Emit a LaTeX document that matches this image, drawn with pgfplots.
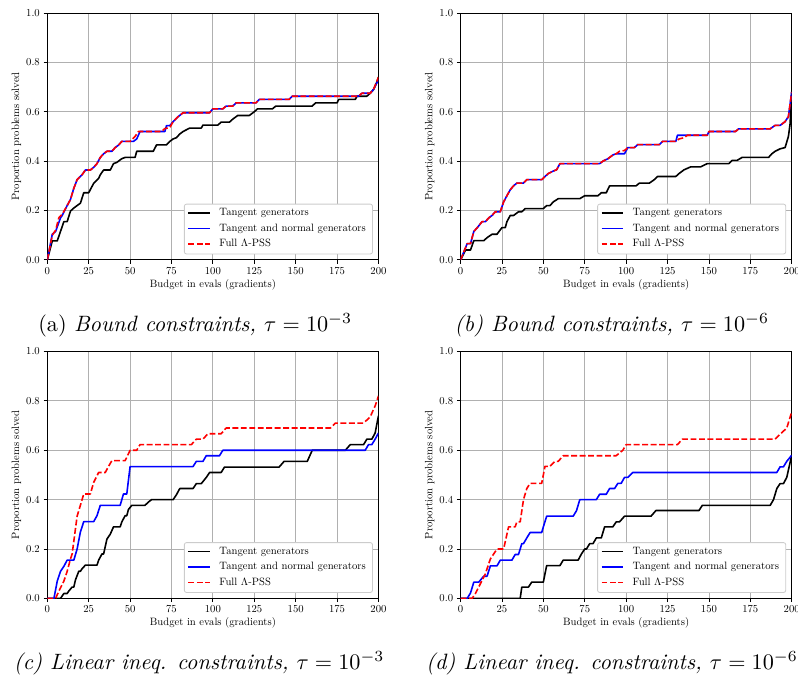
\documentclass[border=0pt]{standalone}
\usepackage{pgfplots}
\pgfplotsset{compat=1.18}
\definecolor{gridgray}{HTML}{B0B0B0}
\definecolor{legframe}{HTML}{CCCCCC}
\newcommand{\mylegend}[1]{%
  \draw[legframe, line width=0.8pt, fill=white, rounded corners=2pt]
    ([shift={(-182.3pt,5.6pt)}]#1.south east) rectangle ([shift={(-5.6pt,52.4pt)}]#1.south east);
  \draw[black, line width=1.5pt] ([shift={(-178.6pt,43.9pt)}]#1.south east) -- ++(20pt,0pt);
  \draw[blue, line width=1.5pt] ([shift={(-178.6pt,29.5pt)}]#1.south east) -- ++(20pt,0pt);
  \draw[red, line width=1.5pt, dash pattern=on 5.55pt off 2.4pt] ([shift={(-178.6pt,15.1pt)}]#1.south east) -- ++(20pt,0pt);
  \node[anchor=west, inner sep=0pt, text height=7pt, text depth=2pt] at ([shift={(-149.5pt,43.9pt)}]#1.south east) {Tangent generators};
  \node[anchor=west, inner sep=0pt, text height=7pt, text depth=2pt] at ([shift={(-149.5pt,29.5pt)}]#1.south east) {Tangent and normal generators};
  \node[anchor=west, inner sep=0pt, text height=7pt, text depth=2pt] at ([shift={(-149.5pt,15.1pt)}]#1.south east) {Full $\Lambda$-PSS};
}
\begin{document}
\pgfplotsset{
  panel/.style={
    scale only axis, width=311pt, height=231.9pt,
    xmin=0, xmax=200, ymin=0, ymax=1,
    xtick={0,25,50,75,100,125,150,175,200},
    ytick={0,0.2,0.4,0.6,0.8,1},
    yticklabel style={/pgf/number format/fixed,/pgf/number format/fixed zerofill,/pgf/number format/precision=1},
    grid=major, major grid style={color=gridgray, line width=0.8pt},
    axis line style={line width=0.8pt},
    tick align=outside, major tick length=3.5pt, tick style={black, line width=0.8pt},
    xtick pos=left, ytick pos=left,
    tick label style={font=\normalsize},
    label style={font=\normalsize},
    xlabel={Budget in evals (gradients)}, ylabel={Proportion problems solved},
    xlabel style={at={(axis description cs:0.5,-0.1008)}, anchor=center},
    ylabel style={at={(axis description cs:-0.0931,0.5)}, anchor=center},
    every axis plot/.append style={line width=1.5pt, line join=round},
  },
  tg/.style={black},
  tn/.style={blue},
  fp/.style={red, dash pattern=on 5.55pt off 2.4pt},
}
\begin{tikzpicture}

% (a)
\begin{axis}[panel, name=A, at={(41.1pt,-12.2pt)}, anchor=north west]
\addplot[tg] coordinates {(0,0)(3,0.077)(6,0.077)(10,0.155)(12,0.155)(14,0.198)(16,0.21)(20,0.23)(22,0.272)(25,0.272)(26,0.285)(28,0.31)(31,0.33)(32,0.345)(34,0.364)(38,0.364)(40,0.39)(42,0.395)(45,0.41)(47,0.415)(53,0.415)(54,0.44)(64,0.44)(66,0.466)(72,0.466)(74,0.48)(76,0.49)(78,0.495)(80,0.51)(82,0.52)(86,0.534)(93,0.534)(94,0.546)(103,0.546)(105,0.558)(110,0.558)(112,0.57)(115,0.585)(122,0.585)(125,0.6)(127,0.612)(136,0.612)(138,0.623)(160,0.623)(162,0.636)(175,0.636)(176,0.65)(186,0.65)(187,0.663)(193,0.663)(195,0.675)(197,0.69)(199,0.72)(200,0.74)};
\addplot[tn] coordinates {(0,0)(3,0.104)(5,0.115)(8,0.171)(9,0.18)(12,0.22)(14,0.245)(16,0.29)(18,0.325)(21,0.345)(23,0.364)(26,0.364)(28,0.375)(30,0.39)(32,0.415)(34,0.43)(36,0.44)(39,0.44)(41,0.455)(43,0.465)(45,0.48)(52,0.48)(54,0.49)(56,0.52)(71,0.52)(72,0.544)(74,0.544)(76,0.56)(79,0.58)(82,0.596)(98,0.596)(100,0.612)(106,0.612)(108,0.623)(112,0.623)(114,0.636)(126,0.636)(128,0.65)(146,0.65)(148,0.663)(188,0.663)(190,0.675)(195,0.675)(197,0.69)(200,0.73)};
\addplot[fp] coordinates {(0,0)(3,0.1)(5,0.12)(7,0.171)(9,0.185)(12,0.22)(14,0.245)(16,0.29)(18,0.325)(21,0.345)(23,0.364)(26,0.364)(28,0.375)(30,0.39)(32,0.415)(34,0.43)(36,0.44)(39,0.44)(41,0.455)(43,0.465)(45,0.48)(50,0.48)(53,0.5)(55,0.52)(69,0.52)(71,0.532)(74,0.536)(76,0.56)(79,0.58)(82,0.596)(98,0.596)(100,0.612)(106,0.612)(108,0.623)(112,0.623)(114,0.636)(126,0.636)(128,0.65)(146,0.65)(148,0.663)(188,0.663)(190,0.675)(195,0.675)(197,0.69)(200,0.74)};
\end{axis}
\mylegend{A}

% (b)
\begin{axis}[panel, name=B, at={(429.2pt,-12.2pt)}, anchor=north west]
\addplot[tg] coordinates {(0,0)(3,0.04)(6,0.04)(8,0.078)(14,0.078)(16,0.09)(19,0.104)(22,0.104)(25,0.131)(27,0.131)(28,0.155)(30,0.18)(32,0.18)(35,0.195)(37,0.195)(39,0.208)(50,0.208)(52,0.22)(54,0.22)(56,0.235)(59,0.248)(72,0.248)(75,0.26)(83,0.26)(85,0.272)(88,0.272)(90,0.3)(106,0.3)(108,0.311)(114,0.311)(117,0.325)(119,0.338)(130,0.338)(132,0.35)(135,0.365)(139,0.377)(145,0.377)(149,0.39)(162,0.39)(164,0.403)(167,0.403)(170,0.415)(186,0.415)(188,0.43)(190,0.44)(193,0.45)(196,0.455)(198,0.5)(199,0.55)(200,0.68)};
\addplot[tn] coordinates {(0,0)(4,0.066)(6,0.066)(8,0.115)(10,0.13)(13,0.155)(15,0.155)(17,0.17)(19,0.18)(21,0.195)(24,0.195)(26,0.235)(28,0.26)(30,0.284)(32,0.3)(34,0.311)(38,0.311)(40,0.325)(49,0.325)(51,0.338)(53,0.35)(56,0.36)(58,0.365)(60,0.39)(84,0.39)(86,0.4)(89,0.41)(92,0.425)(94,0.43)(99,0.43)(101,0.455)(105,0.455)(107,0.467)(120,0.467)(122,0.48)(130,0.48)(131,0.505)(149,0.505)(150,0.52)(166,0.52)(168,0.531)(187,0.531)(190,0.545)(193,0.545)(196,0.56)(198,0.58)(200,0.68)};
\addplot[fp] coordinates {(0,0)(4,0.066)(6,0.066)(8,0.115)(10,0.13)(13,0.155)(15,0.155)(17,0.17)(19,0.18)(21,0.195)(24,0.195)(26,0.235)(28,0.26)(30,0.284)(32,0.3)(34,0.311)(38,0.311)(40,0.325)(49,0.325)(51,0.338)(53,0.35)(56,0.36)(58,0.365)(60,0.39)(84,0.39)(86,0.4)(89,0.41)(92,0.425)(94,0.43)(96,0.44)(99,0.443)(101,0.455)(105,0.455)(107,0.467)(120,0.467)(122,0.48)(130,0.48)(132,0.49)(135,0.495)(137,0.505)(149,0.505)(150,0.52)(166,0.52)(168,0.531)(187,0.531)(190,0.545)(193,0.545)(196,0.56)(198,0.58)(200,0.68)};
\end{axis}
\mylegend{B}

% (c)
\begin{axis}[panel, name=C, at={(41.1pt,-330.1pt)}, anchor=north west]
\addplot[tg] coordinates {(0,0)(8,0)(10,0.02)(12,0.02)(13,0.03)(15,0.046)(16,0.046)(17,0.075)(19,0.11)(20,0.11)(21,0.12)(23,0.135)(30,0.135)(31,0.155)(33,0.18)(34,0.18)(36,0.24)(38,0.26)(40,0.29)(44,0.29)(45,0.31)(47,0.335)(48,0.335)(49,0.36)(51,0.377)(59,0.377)(61,0.39)(63,0.4)(76,0.4)(78,0.42)(80,0.445)(88,0.445)(90,0.465)(93,0.465)(96,0.49)(98,0.51)(105,0.51)(107,0.532)(140,0.532)(143,0.555)(157,0.555)(160,0.6)(180,0.6)(183,0.623)(191,0.623)(193,0.645)(196,0.645)(198,0.67)(200,0.74)};
\addplot[tn] coordinates {(0,0)(4,0)(6,0.07)(8,0.11)(10,0.13)(12,0.155)(16,0.155)(18,0.2)(20,0.27)(21,0.29)(22,0.311)(28,0.311)(30,0.335)(32,0.377)(44,0.377)(46,0.423)(48,0.423)(50,0.534)(88,0.534)(90,0.555)(94,0.555)(96,0.578)(104,0.578)(106,0.6)(192,0.6)(194,0.623)(196,0.623)(198,0.645)(200,0.67)};
\addplot[fp] coordinates {(0,0)(5,0)(7,0.03)(10,0.07)(12,0.11)(14,0.16)(15,0.18)(18,0.333)(21,0.4)(22,0.423)(26,0.423)(28,0.47)(31,0.51)(35,0.51)(37,0.535)(39,0.558)(47,0.558)(50,0.6)(54,0.6)(56,0.623)(87,0.623)(90,0.645)(94,0.645)(97,0.667)(105,0.667)(108,0.69)(171,0.69)(174,0.71)(191,0.71)(195,0.735)(198,0.78)(200,0.82)};
\end{axis}
\mylegend{C}

% (d)
\begin{axis}[panel, name=D, at={(429.2pt,-330.1pt)}, anchor=north west]
\addplot[tg] coordinates {(0,0)(36,0)(37,0.046)(41,0.046)(43,0.066)(50,0.066)(51,0.1)(52,0.133)(60,0.133)(62,0.155)(71,0.155)(73,0.18)(75,0.2)(76,0.2)(78,0.222)(80,0.222)(82,0.245)(85,0.245)(87,0.29)(92,0.29)(94,0.31)(96,0.31)(99,0.333)(115,0.333)(118,0.356)(144,0.356)(146,0.377)(187,0.377)(189,0.4)(191,0.445)(193,0.465)(195,0.465)(197,0.49)(200,0.58)};
\addplot[tn] coordinates {(0,0)(4,0)(6,0.022)(8,0.066)(11,0.066)(14,0.09)(16,0.09)(18,0.132)(22,0.132)(24,0.155)(31,0.155)(33,0.178)(35,0.178)(37,0.222)(38,0.222)(40,0.245)(42,0.267)(49,0.267)(50,0.29)(52,0.333)(68,0.333)(70,0.355)(72,0.4)(82,0.4)(84,0.422)(88,0.422)(90,0.445)(93,0.445)(95,0.466)(97,0.466)(99,0.49)(101,0.49)(104,0.51)(191,0.51)(193,0.533)(195,0.533)(197,0.555)(200,0.58)};
\addplot[fp] coordinates {(0,0)(7,0)(9,0.02)(12,0.06)(15,0.1)(18,0.16)(20,0.18)(22,0.2)(26,0.2)(29,0.29)(33,0.29)(34,0.31)(36,0.31)(38,0.4)(40,0.445)(42,0.466)(49,0.466)(51,0.535)(54,0.535)(57,0.555)(59,0.555)(62,0.578)(94,0.578)(98,0.6)(100,0.623)(131,0.623)(134,0.645)(190,0.645)(193,0.665)(197,0.69)(200,0.755)};
\end{axis}
\mylegend{D}

\node[inner sep=0pt, scale=2.085] at (180pt,-305.3pt) {(a) \textit{Bound constraints, $\tau = 10^{-3}$}};
\node[inner sep=0pt, scale=2.085] at (571.3pt,-305.3pt) {\textit{(b) Bound constraints, $\tau = 10^{-6}$}};
\node[inner sep=0pt, scale=2.085] at (183.7pt,-622.9pt) {\textit{(c) Linear ineq. constraints, $\tau = 10^{-3}$}};
\node[inner sep=0pt, scale=2.085] at (571.3pt,-622.9pt) {\textit{(d) Linear ineq. constraints, $\tau = 10^{-6}$}};

\pgfresetboundingbox
\path[use as bounding box] (0pt,0pt) rectangle (746.1pt,-633.9pt);
\end{tikzpicture}
\end{document}
